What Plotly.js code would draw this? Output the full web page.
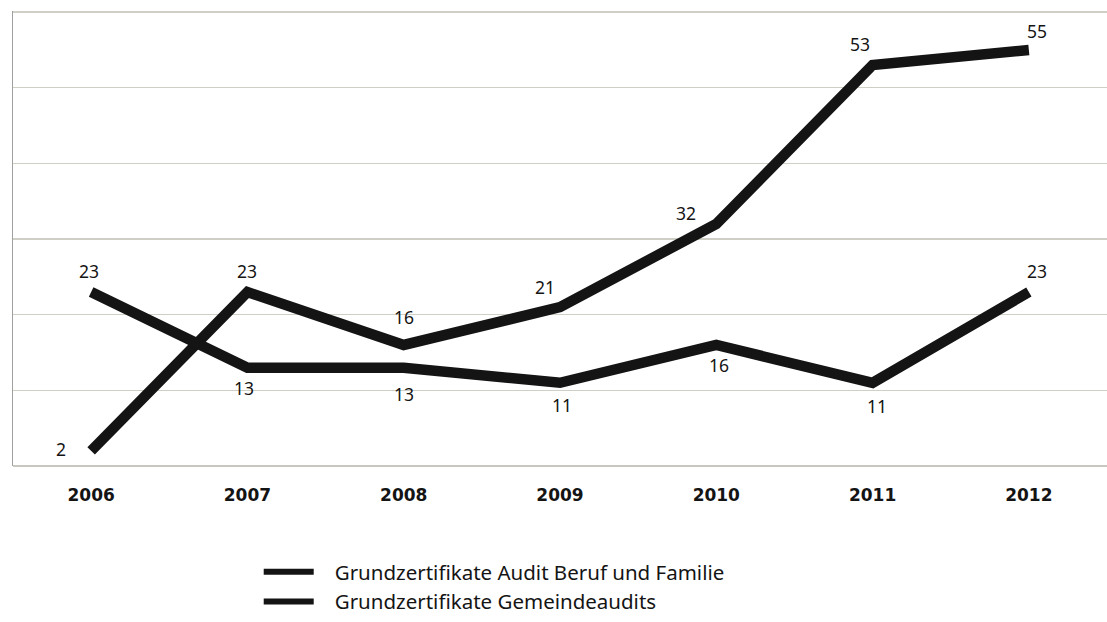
<!DOCTYPE html>
<html>
<head>
<meta charset="utf-8">
<script src="https://cdn.plot.ly/plotly-3.0.1.min.js"></script>
<style>
html,body{margin:0;padding:0;background:#fff;}
#chart{width:1107px;height:622px;}
</style>
</head>
<body>
<div id="chart"></div>
<script>
// ---- data ----
var years = ["2006", "2007", "2008", "2009", "2010", "2011", "2012"];
var seriesNames = ["Grundzertifikate Audit Beruf und Familie", "Grundzertifikate Gemeindeaudits"];
var berufFamilie = [2, 23, 16, 21, 32, 53, 55];
var gemeindeaudits = [23, 13, 13, 11, 16, 11, 23];

// ---- label placement (pixel offsets, style only) ----
var offBF = [[-30, 2], [0, 21], [0, 28], [-15, 20], [-30, 11], [-13, 21], [8, 19]];
var offGA = [[-2, 21], [-3, -20], [0, -26], [2, -22], [3, -20], [4, -23], [8, 21]];

var lineColor = "#141414";
var pad = "\u00a0\u00a0\u00a0";
var traces = [
  {x: years, y: berufFamilie, name: seriesNames[0], type: "scatter", mode: "lines",
   line: {color: lineColor, width: 10.5}, showlegend: false, hoverinfo: "x+y"},
  {x: years, y: gemeindeaudits, name: seriesNames[1], type: "scatter", mode: "lines",
   line: {color: lineColor, width: 10.5}, showlegend: false, hoverinfo: "x+y"},
  // legend entries (thinner sample lines, as in the reference)
  {x: [null], y: [null], name: pad + seriesNames[0], type: "scatter", mode: "lines",
   line: {color: lineColor, width: 6}, showlegend: true, hoverinfo: "skip"},
  {x: [null], y: [null], name: pad + seriesNames[1], type: "scatter", mode: "lines",
   line: {color: lineColor, width: 6}, showlegend: true, hoverinfo: "skip"}
];

var annotations = [];
function addLabels(vals, offs) {
  for (var i = 0; i < vals.length; i++) {
    annotations.push({
      x: i, y: vals[i], xref: "x", yref: "y", text: String(vals[i]),
      showarrow: false, xshift: offs[i][0], yshift: offs[i][1],
      font: {family: "Noto Sans", size: 17.5, color: "#141414"}
    });
  }
}
addLabels(berufFamilie, offBF);
addLabels(gemeindeaudits, offGA);

var layout = {
  width: 1107, height: 622,
  margin: {l: 13, r: 0, t: 11, b: 156},
  paper_bgcolor: "#ffffff", plot_bgcolor: "#ffffff",
  showlegend: true,
  legend: {
    x: 0.2246, y: -0.19, xanchor: "left", yanchor: "top",
    orientation: "v", itemwidth: 50, traceorder: "normal",
    font: {family: "Noto Sans", size: 20.5, color: "#141414"},
    bgcolor: "rgba(0,0,0,0)"
  },
  xaxis: {
    type: "category", range: [-0.5, 6.5],
    showgrid: false, zeroline: false,
    showline: false, ticks: "outside", ticklen: 14, tickcolor: "rgba(0,0,0,0)",
    tickfont: {family: "DejaVu Sans", size: 17, color: "#141414", weight: "bold"},
    fixedrange: true
  },
  yaxis: {
    range: [0, 60.15], dtick: 10, tick0: 0,
    showgrid: true, gridcolor: "#cfcfc6", gridwidth: 1.3,
    showticklabels: false, ticks: "",
    zeroline: true, zerolinecolor: "#c8c8c0", zerolinewidth: 1.5,
    showline: true, linecolor: "#a0a0a0", linewidth: 1.2,
    fixedrange: true
  },
  annotations: annotations
};

Plotly.newPlot("chart", traces, layout, {displayModeBar: false, staticPlot: true});
</script>
</body>
</html>
